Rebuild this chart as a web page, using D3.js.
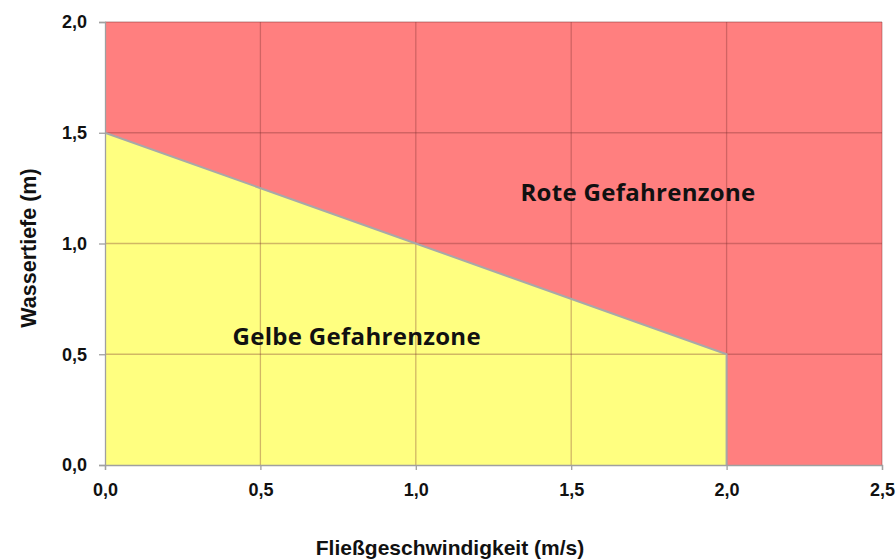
<!DOCTYPE html>
<html><head><meta charset="utf-8">
<script src="https://cdn.jsdelivr.net/npm/d3@7"></script>
<style>body{margin:0;background:#fff}svg{display:block}</style>
</head><body><svg id="c" width="896" height="559"></svg>
<script>
const xTicks = [0, 0.5, 1.0, 1.5, 2.0, 2.5];
const yTicks = [0, 0.5, 1.0, 1.5, 2.0];
// Rote Gefahrenzone: gesamte Fläche
const redX = [0, 2.5];
const redY = [2.0, 2.0];
// Gelbe Gefahrenzone: Grenzlinie
const yellowX = [0, 1.0, 2.0, 2.0];
const yellowY = [1.5, 1.0, 0.5, 0];
const zoneLabels = ["Rote Gefahrenzone", "Gelbe Gefahrenzone"];
const zoneLabelPos = [[1.715, 1.19], [0.81, 0.54]];

const svg = d3.select("#c");
const m = {l:105, r:14, t:22, b:94};
const W = 896, H = 559;
const x = d3.scaleLinear().domain([0,2.5]).range([m.l, W-m.r]);
const y = d3.scaleLinear().domain([0,2]).range([H-m.b, m.t]);
const fmt = d => d3.format(".1f")(d).replace(".", ",");

const area = d3.area().x(d=>x(d[0])).y0(y(0)).y1(d=>y(d[1]));
svg.append("path").datum(redX.map((v,i)=>[v,redY[i]]))
  .attr("d", area).attr("fill", "#ff7f7f");
svg.append("path").datum(yellowX.map((v,i)=>[v,yellowY[i]]))
  .attr("d", area).attr("fill", "#ffff80");

// grid
const g = svg.append("g");
g.selectAll(".gx").data(xTicks.slice(1)).join("line")
  .attr("x1", d=>x(d)).attr("x2", d=>x(d)).attr("y1", y(0)).attr("y2", y(2))
  .attr("stroke", "#7a3030").attr("stroke-opacity", 0.35).attr("stroke-width", 1.3);
g.selectAll(".gy").data(yTicks.slice(1)).join("line")
  .attr("x1", x(0)).attr("x2", x(2.5)).attr("y1", d=>y(d)).attr("y2", d=>y(d))
  .attr("stroke", "#7a3030").attr("stroke-opacity", 0.35).attr("stroke-width", 1.3);

// yellow boundary
svg.append("path")
  .datum([[0,1.5]].concat(yellowX.slice(1).map((v,i)=>[v,yellowY[i+1]])))
  .attr("d", d3.line().x(d=>x(d[0])).y(d=>y(d[1])))
  .attr("fill","none").attr("stroke","#a8a8a8").attr("stroke-width",2);

// axes
const ax = svg.append("g").attr("transform", `translate(0,${y(0)})`)
  .call(d3.axisBottom(x).tickValues(xTicks).tickFormat(fmt).tickSize(5).tickPadding(13));
const ay = svg.append("g").attr("transform", `translate(${x(0)},0)`)
  .call(d3.axisLeft(y).tickValues(yTicks).tickFormat(fmt).tickSize(6).tickPadding(12));
[ax, ay].forEach(a=>{
  a.attr("font-size", null).attr("font-family", null);
  a.select(".domain").attr("stroke","#a0a0a0").attr("stroke-width",1.3);
  a.selectAll(".tick line").attr("stroke","#a0a0a0").attr("stroke-width",1.3);
  a.selectAll("text")
    .style("font-family","'Liberation Sans', Arial, sans-serif")
    .style("font-weight","bold").style("font-size","18px").attr("fill","#111");
});

// zone labels
svg.selectAll(".zl").data(zoneLabels).join("text")
  .attr("x",(d,i)=>x(zoneLabelPos[i][0])).attr("y",(d,i)=>y(zoneLabelPos[i][1]))
  .attr("text-anchor","middle")
  .attr("font-family","'Open Sans', Lato, sans-serif").attr("font-weight","bold")
  .attr("font-size","24px").attr("letter-spacing","0.3px").attr("fill","#111").text(d=>d);

// axis titles
svg.append("text").attr("x", 450).attr("y", 555).attr("text-anchor","middle")
  .attr("font-family","'Liberation Sans', Arial, sans-serif").attr("font-weight","bold")
  .attr("font-size","21px").attr("fill","#111").text("Fließgeschwindigkeit (m/s)");
svg.append("text").attr("transform","translate(36,248) rotate(-90)").attr("text-anchor","middle")
  .attr("font-family","'Liberation Sans', Arial, sans-serif").attr("font-weight","bold")
  .attr("font-size","21.5px").attr("fill","#111").text("Wassertiefe (m)");
</script></body></html>
